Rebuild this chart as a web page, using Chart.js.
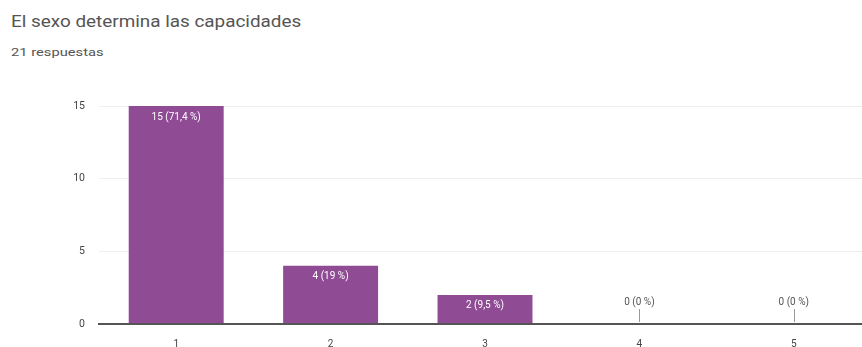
<!DOCTYPE html>
<html><head><meta charset="utf-8">
<script src="https://cdn.jsdelivr.net/npm/chart.js@4"></script>
<style>
html,body{margin:0;padding:0;background:#fff;overflow:hidden;width:862px;height:347px;font-family:Roboto,Arial,sans-serif}
#t{position:absolute;left:11px;top:12px;font-size:16px;color:#555;transform:scaleX(1.18);transform-origin:left top;white-space:nowrap}
#s{position:absolute;left:11px;top:46px;font-size:10.5px;color:#555;transform:scaleX(1.4);transform-origin:left top;white-space:nowrap}
#w{position:absolute;left:0;top:0;width:872px;height:347px}
</style></head><body>
<div id="t">El sexo determina las capacidades</div>
<div id="s">21 respuestas</div>
<div id="w"><canvas id="c"></canvas></div>
<script>
const categories = ['1','2','3','4','5'];
const counts = [15, 4, 2, 0, 0];
const labels = ['15 (71,4 %)','4 (19 %)','2 (9,5 %)','0 (0 %)','0 (0 %)'];
const yTicks = [0,5,10,15];

const labelPlugin = {
  id:'vals',
  afterDatasetsDraw(chart){
    const ctx = chart.ctx;
    const meta = chart.getDatasetMeta(0);
    ctx.save();
    ctx.font = '10px Roboto, Arial, sans-serif';
    ctx.textAlign = 'center';
    ctx.textBaseline = 'middle';
    meta.data.forEach((bar,i)=>{
      if(counts[i] > 0){
        ctx.fillStyle = '#fff';
        ctx.fillText(labels[i], bar.x, bar.y + 11);
      } else {
        ctx.fillStyle = '#555';
        ctx.fillText(labels[i], bar.x, bar.y - 22);
        ctx.strokeStyle = '#999';
        ctx.lineWidth = 1;
        ctx.beginPath();
        ctx.moveTo(Math.round(bar.x)+0.5, bar.y - 15);
        ctx.lineTo(Math.round(bar.x)+0.5, bar.y - 2);
        ctx.stroke();
      }
    });
    ctx.restore();
  }
};

new Chart(document.getElementById('c'),{
  type:'bar',
  data:{labels:categories,datasets:[{data:counts,backgroundColor:'#8f4c95',borderWidth:0,categoryPercentage:1,barPercentage:0.615}]},
  options:{
    responsive:true,maintainAspectRatio:false,animation:false,
    layout:{padding:{top:106,right:1,bottom:0,left:0}},
    plugins:{legend:{display:false},tooltip:{enabled:false}},
    scales:{
      x:{
        grid:{display:false},border:{color:'#555',width:2},
        ticks:{color:'#444',font:{size:10,family:'Roboto, Arial, sans-serif'},padding:6},
        afterFit(s){s.height=23;}
      },
      y:{
        min:0,max:15,
        afterBuildTicks(s){s.ticks=yTicks.map(v=>({value:v}));},
        grid:{color:ctx=>ctx.tick && ctx.tick.value===0?'#555':'#eeeeee',lineWidth:ctx=>ctx.tick && ctx.tick.value===0?2:1,drawTicks:false},
        border:{display:false},
        ticks:{color:'#444',font:{size:10.5,family:'Roboto, Arial, sans-serif'},padding:14},
        afterFit(s){s.width=99;}
      }
    }
  },
  plugins:[labelPlugin]
});
</script>
</body></html>
